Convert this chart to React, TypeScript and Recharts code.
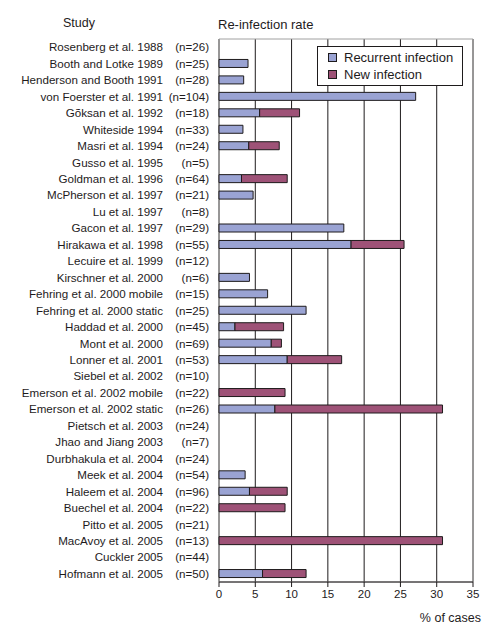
import { Bar, BarChart, CartesianGrid, Legend, ReferenceArea, XAxis, YAxis } from "recharts";

const studies = [
  "Rosenberg et al. 1988",
  "Booth and Lotke 1989",
  "Henderson and Booth 1991",
  "von Foerster et al. 1991",
  "Gõksan et al. 1992",
  "Whiteside 1994",
  "Masri et al. 1994",
  "Gusso et al. 1995",
  "Goldman et al. 1996",
  "McPherson et al. 1997",
  "Lu et al. 1997",
  "Gacon et al. 1997",
  "Hirakawa et al. 1998",
  "Lecuire et al. 1999",
  "Kirschner et al. 2000",
  "Fehring et al. 2000 mobile",
  "Fehring et al. 2000 static",
  "Haddad et al. 2000",
  "Mont et al. 2000",
  "Lonner et al. 2001",
  "Siebel et al. 2002",
  "Emerson et al. 2002 mobile",
  "Emerson et al. 2002 static",
  "Pietsch et al. 2003",
  "Jhao and Jiang 2003",
  "Durbhakula et al. 2004",
  "Meek et al. 2004",
  "Haleem et al. 2004",
  "Buechel et al. 2004",
  "Pitto et al. 2005",
  "MacAvoy et al. 2005",
  "Cuckler 2005",
  "Hofmann et al. 2005",
];

const sampleSizes = [
  26, 25, 28, 104, 18, 33, 24, 5, 64, 21, 8, 29, 55, 12, 6, 15, 25, 45, 69, 53, 10, 22, 26, 24, 7, 24,
  54, 96, 22, 21, 13, 44, 50,
];

const recurrentRate = [
  0, 4.0, 3.4, 27.1, 5.6, 3.3, 4.1, 0, 3.1, 4.7, 0, 17.2, 18.2, 0, 4.2, 6.7, 12.0, 2.2, 7.2, 9.4, 0, 0,
  7.7, 0, 0, 0, 3.6, 4.2, 0, 0, 0, 0, 6.0,
];

const newInfectionRate = [
  0, 0, 0, 0, 5.5, 0, 4.2, 0, 6.3, 0, 0, 0, 7.3, 0, 0, 0, 0, 6.7, 1.4, 7.5, 0, 9.1, 23.1, 0, 0, 0, 0,
  5.2, 9.1, 0, 30.8, 0, 6.0,
];

const xTicks = [0, 5, 10, 15, 20, 25, 30, 35];
const seriesOrder = ["Recurrent infection", "New infection"];

const INK = "#1e1b1c";
const RECURRENT = "#9aa3d3";
const NEW = "#9e5277";
const FONT = '"Liberation Sans", Arial, Helvetica, sans-serif';

const data = studies.map((study, i) => ({
  study,
  n: sampleSizes[i],
  recurrent: recurrentRate[i],
  newInf: newInfectionRate[i],
}));

function StudyTick(props: any) {
  const { y, payload, index } = props;
  return (
    <g>
      <text x={163} y={y} dy="0.36em" textAnchor="end" fontSize={11.6} fill={INK} fontFamily={FONT}>
        {payload.value}
      </text>
      <text x={209} y={y} dy="0.36em" textAnchor="end" fontSize={11.6} fill={INK} fontFamily={FONT}>
        {`(n=${sampleSizes[index]})`}
      </text>
    </g>
  );
}

function LegendBox(props: any) {
  const items = [...(props.payload || [])].sort(
    (a: any, b: any) => seriesOrder.indexOf(a.value) - seriesOrder.indexOf(b.value)
  );
  return (
    <div
      style={{
        position: "relative",
        border: `1px solid ${INK}`,
        background: "#fff",
        width: 144,
        height: 38,
      }}
    >
      {items.map((item: any, i: number) => (
        <div
          key={item.value}
          style={{
            position: "absolute",
            left: 10,
            top: 2 + i * 17,
            height: 17,
            display: "flex",
            alignItems: "center",
            fontSize: 13,
            color: INK,
            fontFamily: FONT,
            whiteSpace: "nowrap",
          }}
        >
          <span
            style={{
              display: "inline-block",
              width: 7,
              height: 7,
              border: `1px solid ${INK}`,
              background: item.color,
              marginRight: 7,
            }}
          />
          {item.value}
        </div>
      ))}
    </div>
  );
}

export default function App() {
  return (
    <div
      style={{
        position: "absolute",
        left: 0,
        top: 0,
        width: 490,
        height: 630,
        background: "#fff",
        fontFamily: FONT,
      }}
    >
      <div style={{ position: "absolute", left: 63, top: 16, fontSize: 12.5, color: INK }}>Study</div>
      <div style={{ position: "absolute", left: 218, top: 17, fontSize: 13, color: INK }}>
        Re-infection rate
      </div>
      <BarChart
        width={490}
        height={630}
        data={data}
        layout="vertical"
        margin={{ top: 39, right: 17, bottom: 0, left: 0 }}
        barSize={8}
      >
        <CartesianGrid horizontal={false} stroke={INK} strokeWidth={1} />
        <ReferenceArea x1={0} x2={35} stroke="#a0a0a0" strokeWidth={1} fill="none" fillOpacity={0} />
        <XAxis
          type="number"
          domain={[0, 35]}
          ticks={xTicks}
          interval={0}
          height={48}
          stroke={INK}
          tickSize={5}
          tickMargin={3}
          tick={{ fontSize: 11.5, fill: INK, fontFamily: FONT }}
          label={{
            content: (p: any) => (
              <text
                x={p.viewBox.x + p.viewBox.width + 8}
                y={p.viewBox.y + 40}
                textAnchor="end"
                fontSize={12.5}
                fill={INK}
                fontFamily={FONT}
              >
                % of cases
              </text>
            ),
          }}
        />
        <YAxis
          type="category"
          dataKey="study"
          width={219}
          axisLine={false}
          tickLine={false}
          interval={0}
          tick={<StudyTick />}
        />
        <Legend
          layout="vertical"
          align="center"
          verticalAlign="middle"
          content={<LegendBox />}
          wrapperStyle={{ left: 317, top: 46, width: 146, height: 40, right: "auto", bottom: "auto" }}
        />
        <Bar
          dataKey="recurrent"
          name="Recurrent infection"
          stackId="rate"
          fill={RECURRENT}
          stroke={INK}
          strokeWidth={1}
          isAnimationActive={false}
        />
        <Bar
          dataKey="newInf"
          name="New infection"
          stackId="rate"
          fill={NEW}
          stroke={INK}
          strokeWidth={1}
          isAnimationActive={false}
        />
      </BarChart>
    </div>
  );
}
